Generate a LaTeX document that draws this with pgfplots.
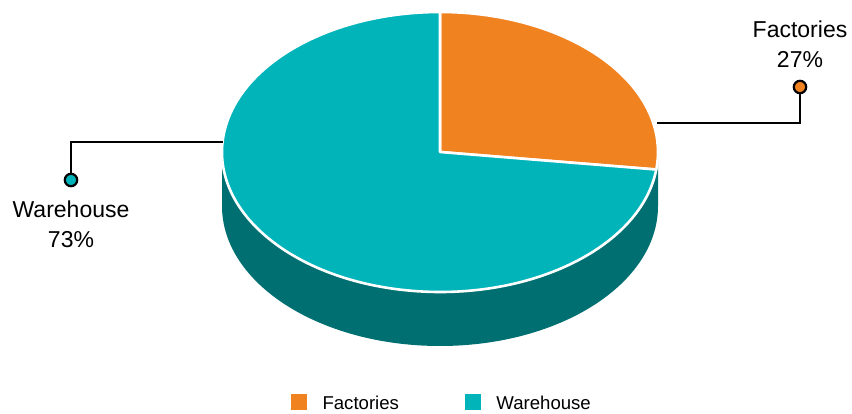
\documentclass[border=0pt]{standalone}
\usepackage{pgfplots}
\pgfplotsset{compat=1.18}
\usepackage{fontspec}
\setmainfont{Liberation Sans}
\definecolor{cOrange}{HTML}{F08220}
\definecolor{cTeal}{HTML}{00B4BA}
\definecolor{cDark}{HTML}{006F71}
\begin{document}
\begin{tikzpicture}
% pie data (percent)
\def\vFactories{27}
\def\vWarehouse{73}
\pgfmathsetmacro{\aStart}{90}
\pgfmathsetmacro{\aMid}{90-\vFactories/100*360}
\pgfmathsetmacro{\aEnd}{\aMid-\vWarehouse/100*360}
\def\cx{440}\def\cy{262}\def\rx{218}\def\ry{140}\def\dep{54}
\begin{axis}[
  x=1pt, y=1pt, xmin=0, xmax=852, ymin=0, ymax=414,
  scale only axis, hide axis, clip=false,
  legend columns=2,
  legend style={at={(0.5176,0.006)}, anchor=south, draw=none, fill=none, inner sep=0pt,
    font=\fontsize{18.6}{22}\selectfont,
    /tikz/every even column/.append style={column sep=66pt},
    nodes={inner sep=0pt, inner xsep=0pt}},
  legend image code/.code={\fill[#1] (0pt,-5pt) rectangle (15pt,10pt); \path (31pt,0pt);},
]
% side of the pie
\fill[cDark] (axis cs:{\cx+\rx},\cy) -- (axis cs:{\cx+\rx},{\cy-\dep})
  arc[start angle=0, end angle=-180, x radius=\rx pt, y radius=\ry pt]
  -- (axis cs:{\cx-\rx},\cy)
  arc[start angle=180, end angle=360, x radius=\rx pt, y radius=\ry pt] -- cycle;
% top slices
\filldraw[cOrange, draw=white, line width=2.6pt, line join=round]
  (axis cs:\cx,\cy) -- (axis cs:{\cx+\rx*cos(\aStart)},{\cy+\ry*sin(\aStart)})
  arc[start angle=\aStart, end angle=\aMid, x radius=\rx pt, y radius=\ry pt] -- cycle;
\filldraw[cTeal, draw=white, line width=2.6pt, line join=round]
  (axis cs:\cx,\cy) -- (axis cs:{\cx+\rx*cos(\aMid)},{\cy+\ry*sin(\aMid)})
  arc[start angle=\aMid, end angle=\aEnd, x radius=\rx pt, y radius=\ry pt] -- cycle;
% leader lines
\addplot[black, line width=2.4pt, forget plot] coordinates {(657,291) (800,291) (800,327)};
\addplot[black, line width=2.4pt, forget plot] coordinates {(223,272) (71,272) (71,234)};
\addplot[only marks, mark=*, mark size=6.2pt, mark options={fill=cOrange, draw=black, line width=2.2pt}, forget plot] coordinates {(800,327)};
\addplot[only marks, mark=*, mark size=6.2pt, mark options={fill=cTeal, draw=black, line width=2.2pt}, forget plot] coordinates {(71,234)};
% labels
\node[anchor=base, font=\fontsize{23}{27}\selectfont] at (axis cs:800,376) {Factories};
\node[anchor=base, font=\fontsize{23}{27}\selectfont] at (axis cs:800,346) {27\%};
\node[anchor=base, font=\fontsize{23}{27}\selectfont] at (axis cs:71,196) {Warehouse};
\node[anchor=base, font=\fontsize{23}{27}\selectfont] at (axis cs:71,166) {73\%};
% legend
\addlegendimage{cOrange}
\addlegendentry{Factories}
\addlegendimage{cTeal}
\addlegendentry{Warehouse}
\end{axis}
\pgfresetboundingbox
\path (current axis.south west) rectangle (current axis.north east);
\end{tikzpicture}
\end{document}
